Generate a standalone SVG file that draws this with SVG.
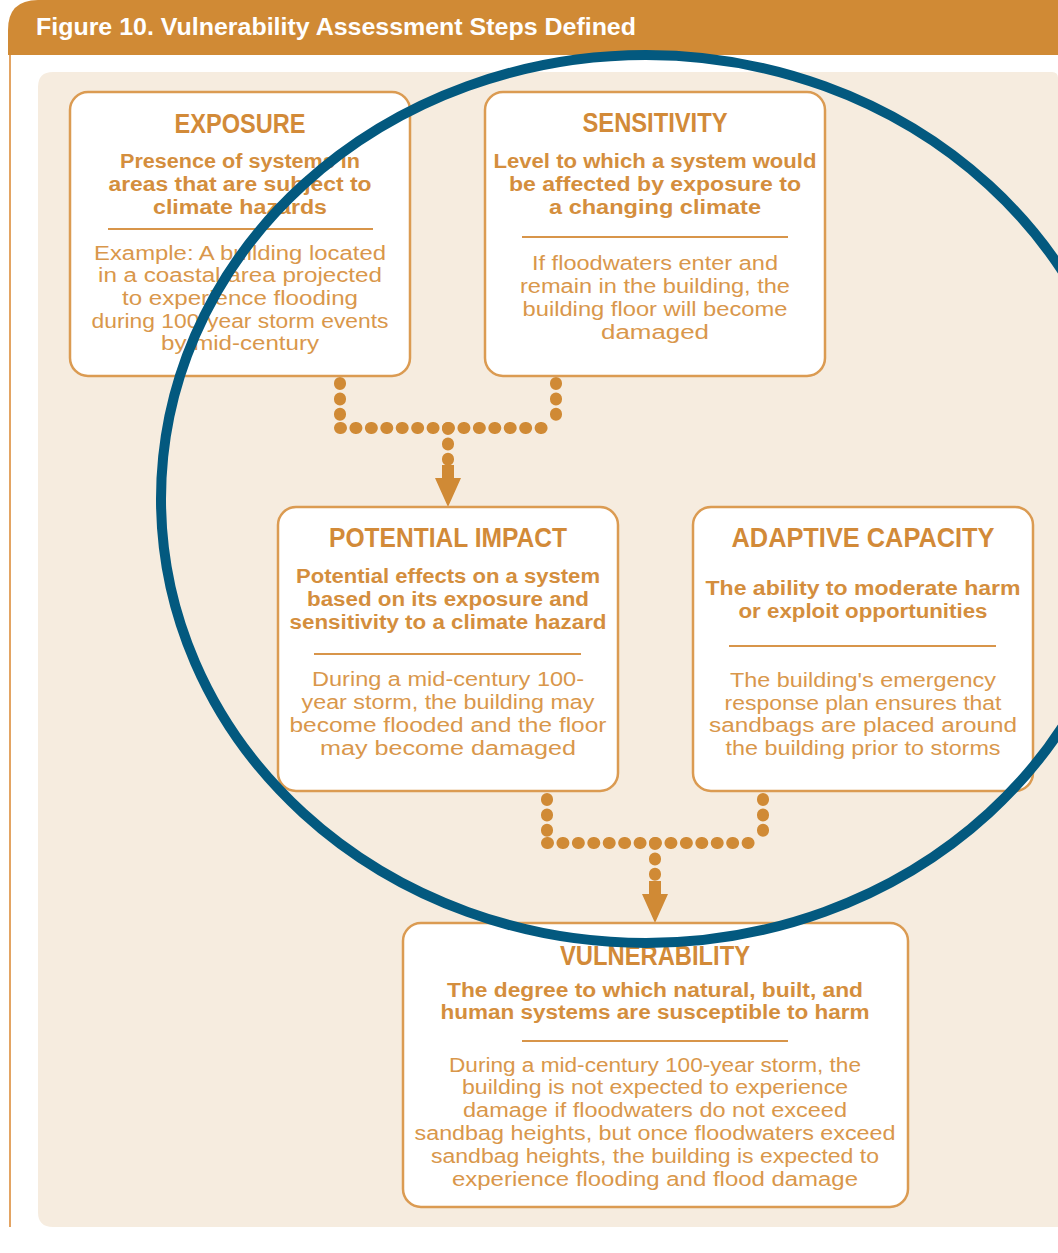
<svg xmlns="http://www.w3.org/2000/svg" width="1058" height="1253" viewBox="0 0 1058 1253">
<style>
.box{fill:#FFFFFF;stroke:#DB9B52;stroke-width:2.5}
.sep{stroke:#D8954A;stroke-width:2}
.t{font-family:"Liberation Sans",Arial,sans-serif;font-weight:bold;font-size:27px;fill:#D28A38;text-anchor:middle}
.s{font-family:"Liberation Sans",Arial,sans-serif;font-weight:bold;font-size:20px;fill:#D48E3D;text-anchor:middle}
.b{font-family:"Liberation Sans",Arial,sans-serif;font-size:20px;fill:#D9974B;text-anchor:middle}
.dot{fill:none;stroke:#D08A35;stroke-width:12;stroke-linecap:round;stroke-dasharray:1 14.43}
.arr{fill:#D08A35}
</style>
<rect x="0" y="0" width="1058" height="1253" fill="#FFFFFF"/>
<g id="frame">
<path d="M8,55 V30 Q8,0 38,0 H1058 V55 Z" fill="#D08A35"/>
<line x1="10" y1="55" x2="10" y2="1227" stroke="#E3A463" stroke-width="2"/>
<text x="36" y="35" font-family="'Liberation Sans',Arial,sans-serif" font-weight="bold" font-size="23" fill="#FFFFFF" textLength="600" lengthAdjust="spacingAndGlyphs">Figure 10. Vulnerability Assessment Steps Defined</text>
<path d="M38,87 Q38,72 53,72 H1052 Q1058,72 1058,78 V1227 H53 Q38,1227 38,1212 Z" fill="#F6ECDF"/>
</g>
<g id="connectors">
<path class="dot" d="M340,383 V428"/>
<path class="dot" d="M556,383 V428"/>
<path class="dot" d="M340,428 H556"/>
<path class="dot" d="M448,428 V460"/>
<path class="arr" d="M442,465 h12 v13 h7 l-13,29 l-13,-29 h7 z"/>
<path class="dot" d="M547,799 V843"/>
<path class="dot" d="M763,799 V843"/>
<path class="dot" d="M547,843 H763"/>
<path class="dot" d="M655,843 V875"/>
<path class="arr" d="M649,881 h12 v13 h7 l-13,29 l-13,-29 h7 z"/>
</g>
<g id="exposure">
<rect class="box" x="70" y="92" width="340" height="284" rx="18"/>
<text class="t" x="240" y="133" textLength="131" lengthAdjust="spacingAndGlyphs">EXPOSURE</text>
<text class="s" x="240" y="168" textLength="240" lengthAdjust="spacingAndGlyphs">Presence of systems in</text>
<text class="s" x="240" y="191" textLength="263" lengthAdjust="spacingAndGlyphs">areas that are subject to</text>
<text class="s" x="240" y="214" textLength="174" lengthAdjust="spacingAndGlyphs">climate hazards</text>
<line class="sep" x1="108" y1="229" x2="373" y2="229"/>
<text class="b" x="240" y="260" textLength="292" lengthAdjust="spacingAndGlyphs">Example: A building located</text>
<text class="b" x="240" y="282" textLength="284" lengthAdjust="spacingAndGlyphs">in a coastal area projected</text>
<text class="b" x="240" y="305" textLength="236" lengthAdjust="spacingAndGlyphs">to experience flooding</text>
<text class="b" x="240" y="328" textLength="297" lengthAdjust="spacingAndGlyphs">during 100-year storm events</text>
<text class="b" x="240" y="350" textLength="158" lengthAdjust="spacingAndGlyphs">by mid-century</text>
</g>
<g id="sensitivity">
<rect class="box" x="485" y="92" width="340" height="284" rx="18"/>
<text class="t" x="655" y="132" textLength="145" lengthAdjust="spacingAndGlyphs">SENSITIVITY</text>
<text class="s" x="655" y="168" textLength="323" lengthAdjust="spacingAndGlyphs">Level to which a system would</text>
<text class="s" x="655" y="191" textLength="292" lengthAdjust="spacingAndGlyphs">be affected by exposure to</text>
<text class="s" x="655" y="214" textLength="212" lengthAdjust="spacingAndGlyphs">a changing climate</text>
<line class="sep" x1="522" y1="237" x2="788" y2="237"/>
<text class="b" x="655" y="270" textLength="246" lengthAdjust="spacingAndGlyphs">If floodwaters enter and</text>
<text class="b" x="655" y="293" textLength="270" lengthAdjust="spacingAndGlyphs">remain in the building, the</text>
<text class="b" x="655" y="316" textLength="265" lengthAdjust="spacingAndGlyphs">building floor will become</text>
<text class="b" x="655" y="339" textLength="108" lengthAdjust="spacingAndGlyphs">damaged</text>
</g>
<g id="potential-impact">
<rect class="box" x="278" y="507" width="340" height="284" rx="18"/>
<text class="t" x="448" y="547" textLength="238" lengthAdjust="spacingAndGlyphs">POTENTIAL IMPACT</text>
<text class="s" x="448" y="583" textLength="304" lengthAdjust="spacingAndGlyphs">Potential effects on a system</text>
<text class="s" x="448" y="606" textLength="282" lengthAdjust="spacingAndGlyphs">based on its exposure and</text>
<text class="s" x="448" y="629" textLength="317" lengthAdjust="spacingAndGlyphs">sensitivity to a climate hazard</text>
<line class="sep" x1="314" y1="654" x2="581" y2="654"/>
<text class="b" x="448" y="686" textLength="272" lengthAdjust="spacingAndGlyphs">During a mid-century 100-</text>
<text class="b" x="448" y="709" textLength="293" lengthAdjust="spacingAndGlyphs">year storm, the building may</text>
<text class="b" x="448" y="732" textLength="317" lengthAdjust="spacingAndGlyphs">become flooded and the floor</text>
<text class="b" x="448" y="755" textLength="256" lengthAdjust="spacingAndGlyphs">may become damaged</text>
</g>
<g id="adaptive-capacity">
<rect class="box" x="693" y="507" width="340" height="284" rx="18"/>
<text class="t" x="863" y="547" textLength="263" lengthAdjust="spacingAndGlyphs">ADAPTIVE CAPACITY</text>
<text class="s" x="863" y="595" textLength="315" lengthAdjust="spacingAndGlyphs">The ability to moderate harm</text>
<text class="s" x="863" y="618" textLength="249" lengthAdjust="spacingAndGlyphs">or exploit opportunities</text>
<line class="sep" x1="729" y1="646" x2="996" y2="646"/>
<text class="b" x="863" y="687" textLength="266" lengthAdjust="spacingAndGlyphs">The building's emergency</text>
<text class="b" x="863" y="710" textLength="277" lengthAdjust="spacingAndGlyphs">response plan ensures that</text>
<text class="b" x="863" y="732" textLength="308" lengthAdjust="spacingAndGlyphs">sandbags are placed around</text>
<text class="b" x="863" y="755" textLength="275" lengthAdjust="spacingAndGlyphs">the building prior to storms</text>
</g>
<g id="vulnerability">
<rect class="box" x="403" y="923" width="505" height="284" rx="18"/>
<text class="t" x="655" y="965" textLength="190" lengthAdjust="spacingAndGlyphs">VULNERABILITY</text>
<text class="s" x="655" y="997" textLength="416" lengthAdjust="spacingAndGlyphs">The degree to which natural, built, and</text>
<text class="s" x="655" y="1019" textLength="429" lengthAdjust="spacingAndGlyphs">human systems are susceptible to harm</text>
<line class="sep" x1="522" y1="1041" x2="788" y2="1041"/>
<text class="b" x="655" y="1072" textLength="412" lengthAdjust="spacingAndGlyphs">During a mid-century 100-year storm, the</text>
<text class="b" x="655" y="1094" textLength="386" lengthAdjust="spacingAndGlyphs">building is not expected to experience</text>
<text class="b" x="655" y="1117" textLength="384" lengthAdjust="spacingAndGlyphs">damage if floodwaters do not exceed</text>
<text class="b" x="655" y="1140" textLength="481" lengthAdjust="spacingAndGlyphs">sandbag heights, but once floodwaters exceed</text>
<text class="b" x="655" y="1163" textLength="448" lengthAdjust="spacingAndGlyphs">sandbag heights, the building is expected to</text>
<text class="b" x="655" y="1186" textLength="406" lengthAdjust="spacingAndGlyphs">experience flooding and flood damage</text>
</g>
<ellipse id="highlight" cx="646" cy="499" rx="485" ry="444" fill="none" stroke="#03597F" stroke-width="10"/>
</svg>
